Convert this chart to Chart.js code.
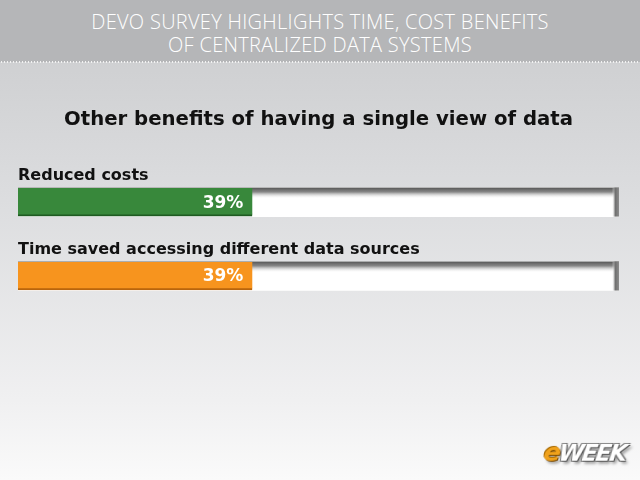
<!DOCTYPE html>
<html><head><meta charset="utf-8">
<script src="https://cdn.jsdelivr.net/npm/chart.js@4"></script>
<style>
html,body{margin:0;padding:0;}
body{width:640px;height:480px;position:relative;overflow:hidden;background:linear-gradient(#cfd0d2 60px,#dcdddf 200px,#f0f0f1 400px,#fafafa 480px);font-family:"Open Sans",sans-serif;}
#hdr{position:absolute;left:0;top:0;width:640px;height:62px;background:#b5b6b8;color:#fff;text-align:center;font-weight:300;font-size:20px;line-height:23px;padding-top:10px;box-sizing:border-box;letter-spacing:0.3px;}
#dots{position:absolute;left:0;top:61px;width:640px;height:2px;background-image:radial-gradient(circle,#f2f2f2 0.7px,transparent 1px);background-size:3px 2px;}
#c{position:absolute;left:0;top:0;}
#logo{position:absolute;left:544px;top:438px;font-family:"DejaVu Sans";font-weight:bold;font-style:italic;font-size:23px;letter-spacing:-2px;color:#fff;text-shadow:1px 1px 0 #555,-1px -1px 0 #888,1px -1px 0 #777,-1px 1px 0 #777,3px 3px 3px rgba(0,0,0,0.35);transform:skewX(-8deg);}
#logo span{color:#f0a21c;text-shadow:1px 1px 0 #7a4a00,-1px -1px 0 #a86a00,3px 3px 3px rgba(0,0,0,0.35);font-size:25px;}
</style></head><body>
<div id="hdr">DEVO SURVEY HIGHLIGHTS TIME, COST BENEFITS<br>OF CENTRALIZED DATA SYSTEMS</div>
<div id="dots"></div>
<canvas id="c" width="640" height="480"></canvas>
<div id="logo"><span>e</span>WEEK</div>
<script>
const chartTitle = "Other benefits of having a single view of data";
const categories = ["Reduced costs", "Time saved accessing different data sources"];
const values = [39, 39];
const fullScale = [100, 100];
const barColors = ["#38883b", "#f7941e"];
const barEdges = ["#1f5a22", "#b9650c"];

const shadowPlugin = {
  id: 'trackShadow',
  afterDatasetDraw(chart, args) {
    if (args.index !== 1) return;
    const ctx = chart.ctx;
    ctx.save();
    args.meta.data.forEach(el => {
      const left = el.base, right = el.x;
      const top = el.y - el.height / 2, bottom = el.y + el.height / 2;
      let g = ctx.createLinearGradient(0, top, 0, top + 11);
      g.addColorStop(0, 'rgba(85,85,85,1)');
      g.addColorStop(0.4, 'rgba(115,115,115,0.85)');
      g.addColorStop(1, 'rgba(255,255,255,0)');
      ctx.fillStyle = g;
      ctx.fillRect(left, top, right - left, 11);
      g = ctx.createLinearGradient(right - 7, 0, right, 0);
      g.addColorStop(0, 'rgba(255,255,255,0)');
      g.addColorStop(0.45, 'rgba(110,110,110,1)');
      g.addColorStop(1, 'rgba(140,140,140,1)');
      ctx.fillStyle = g;
      ctx.fillRect(right - 7, top, 7, bottom - top);
    });
    ctx.restore();
  }
};

const labelPlugin = {
  id: 'catLabels',
  afterDatasetsDraw(chart) {
    const ctx = chart.ctx;
    const y = chart.scales.y, x = chart.scales.x;
    ctx.save();
    categories.forEach((c, i) => {
      const py = y.getPixelForValue(i);
      ctx.fillStyle = '#111';
      ctx.font = 'bold 16px "DejaVu Sans"';
      ctx.textAlign = 'left';
      ctx.textBaseline = 'alphabetic';
      ctx.fillText(c, x.getPixelForValue(0), py - 22);
      ctx.fillStyle = '#fff';
      ctx.font = 'bold 17px "DejaVu Sans"';
      ctx.textAlign = 'right';
      ctx.textBaseline = 'middle';
      ctx.fillText(values[i] + '%', x.getPixelForValue(values[i]) - 9, py + 1);
    });
    ctx.restore();
  }
};

new Chart(document.getElementById('c'), {
  type: 'bar',
  data: {
    labels: categories,
    datasets: [
      {
        data: values,
        backgroundColor: barColors,
        borderColor: barEdges,
        borderWidth: {bottom: 2, top: 0, left: 0, right: 0},
        borderSkipped: false,
        barThickness: 28,
        grouped: false,
        order: 1
      },
      {
        data: fullScale,
        backgroundColor: '#ffffff',
        borderWidth: 0,
        barThickness: 29,
        grouped: false,
        order: 2
      }
    ]
  },
  options: {
    indexAxis: 'y',
    responsive: false,
    animation: false,
    layout: {padding: {left: 18, right: 21, top: 0, bottom: 167}},
    scales: {
      x: {display: false, min: 0, max: 100},
      y: {display: false}
    },
    plugins: {
      legend: {display: false},
      tooltip: {enabled: false},
      title: {
        display: true,
        text: chartTitle,
        color: '#111',
        font: {family: 'DejaVu Sans', size: 19.7, weight: 'bold', lineHeight: 1.2},
        padding: {top: 108.5, bottom: 33}
      }
    }
  },
  plugins: [shadowPlugin, labelPlugin]
});
</script>
</body></html>
